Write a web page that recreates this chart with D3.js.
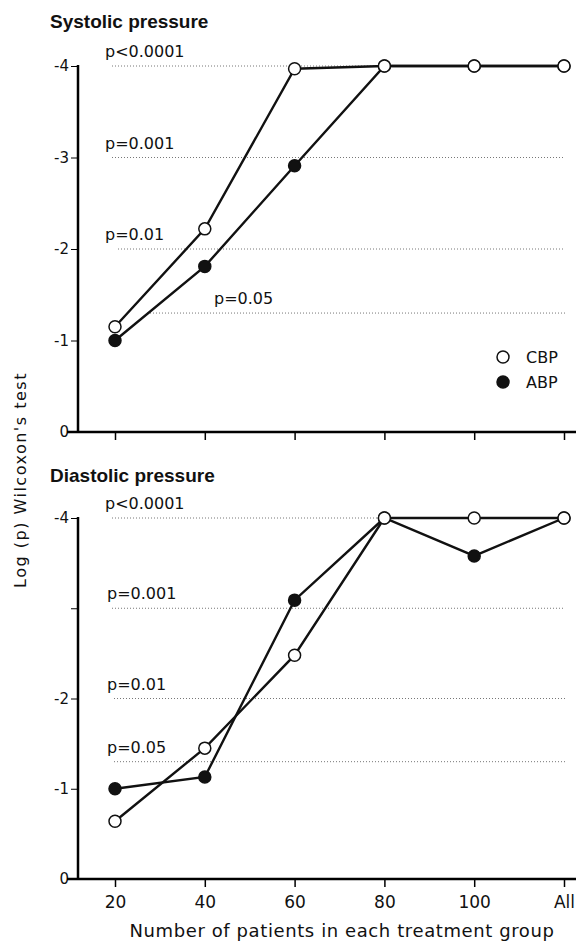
<!DOCTYPE html>
<html>
<head>
<meta charset="utf-8">
<script src="https://cdn.jsdelivr.net/npm/d3@7"></script>
<style>
body { margin: 0; background: #fff; }
text { font-family: "DejaVu Sans", sans-serif; fill: #111; }
</style>
</head>
<body>
<svg width="577" height="946"></svg>
<script>
// Wilcoxon log(p) by group size, systolic and diastolic

var groups = ['20', '40', '60', '80', '100', 'All']

var sysCBP = [-1.15, -2.22, -3.97, -4, -4, -4]
var sysABP = [-1.0, -1.81, -2.91, -4, -4, -4]
var diaCBP = [-0.64, -1.45, -2.48, -4, -4, -4]
var diaABP = [-1.0, -1.13, -3.09, -4, -3.58, -4]

var refValues = [-4, -3, -2, -1.3]
var refLabels = ['p<0.0001', 'p=0.001', 'p=0.01', 'p=0.05']

var yTicks = [0, -1, -2, -3, -4]

var svg = d3.select('svg')

var x = d3.scalePoint()
	.domain(groups)
	.range([115, 564])

function panel(opts) {
	var g = svg.append('g')
	var y = d3.scaleLinear().domain([0, -4]).range([opts.y0, opts.y4])

	g.append('text')
		.attr('x', 50).attr('y', opts.titleY)
		.style('font-family', '"Liberation Sans", Arial, sans-serif')
		.style('font-weight', 'bold').style('font-size', '19px')
		.text(opts.title)

	// reference p lines
	refValues.forEach(function(v, i) {
		g.append('line')
			.attr('x1', opts.refStart[i]).attr('x2', 565)
			.attr('y1', y(v)).attr('y2', y(v))
			.attr('stroke', '#777').attr('stroke-width', 1)
			.attr('stroke-dasharray', '1,2')
		g.append('text')
			.attr('x', opts.refLabelX[i]).attr('y', y(v) - 9)
			.style('font-size', '16px')
			.text(refLabels[i])
	})

	// axes
	var yAxis = d3.axisLeft(y)
		.tickValues(yTicks)
		.tickSize(7)
		.tickPadding(2)
		.tickFormat(function(d) { return opts.hideTick && d == opts.hideTick ? '' : (d == 0 ? '0' : '-' + Math.abs(d)) })
	var ya = g.append('g').attr('transform', 'translate(78,0)').call(yAxis)
	ya.select('.domain').attr('d', 'M0,' + (y(-4) - 1) + 'V' + y(0)).attr('stroke-width', 2.5)
	ya.selectAll('text').style('font-size', '15px')

	var xAxis = d3.axisBottom(x)
		.tickSize(8)
		.tickPadding(9)
		.tickFormat(opts.showX ? null : '')
	var xa = g.append('g').attr('transform', 'translate(0,' + y(0) + ')').call(xAxis)
	xa.select('.domain').attr('d', 'M67,0H576').attr('stroke-width', 2.5)
	xa.selectAll('.tick line').attr('stroke-width', 1.5)
	xa.selectAll('text').style('font-size', '17px')

	var line = d3.line()
		.x(function(d, i) { return x(groups[i]) })
		.y(function(d) { return y(d) })

	var series = [
		{ vals: opts.abp, fill: '#111' },
		{ vals: opts.cbp, fill: '#fff' }
	]
	series.forEach(function(s) {
		g.append('path')
			.attr('d', line(s.vals))
			.attr('fill', 'none')
			.attr('stroke', '#111')
			.attr('stroke-width', 2.4)
	})
	series.forEach(function(s) {
		g.selectAll(null)
			.data(s.vals)
			.enter()
			.append('circle')
			.attr('cx', function(d, i) { return x(groups[i]) })
			.attr('cy', function(d) { return y(d) })
			.attr('r', 6)
			.attr('fill', s.fill)
			.attr('stroke', '#111')
			.attr('stroke-width', 1.5)
	})
	return g
}

var topPanel = panel({
	title: 'Systolic pressure', titleY: 28,
	y0: 432, y4: 66,
	cbp: sysCBP, abp: sysABP,
	refStart: [112, 112, 118, 147],
	refLabelX: [105, 105, 105, 214],
	showX: false
})

panel({
	title: 'Diastolic pressure', titleY: 482,
	y0: 879, y4: 518,
	cbp: diaCBP, abp: diaABP,
	refStart: [112, 112, 114, 114],
	refLabelX: [105, 107, 107, 107],
	showX: true, hideTick: -3
})

// legend
var legend = [{ name: 'CBP', fill: '#fff' }, { name: 'ABP', fill: '#111' }]
legend.forEach(function(l, i) {
	topPanel.append('circle')
		.attr('cx', 503).attr('cy', 357 + i * 25)
		.attr('r', 6)
		.attr('fill', l.fill).attr('stroke', '#111').attr('stroke-width', 1.5)
	topPanel.append('text')
		.attr('x', 526).attr('y', 363 + i * 25)
		.style('font-size', '16px')
		.text(l.name)
})

svg.append('text')
	.attr('transform', 'translate(26,480) rotate(-90)')
	.attr('text-anchor', 'middle')
	.style('font-size', '16px')
	.style('letter-spacing', '1.5px')
	.text("Log (p) Wilcoxon's test")

svg.append('text')
	.attr('x', 342).attr('y', 937)
	.attr('text-anchor', 'middle')
	.style('font-size', '18px')
	.style('letter-spacing', '0.6px')
	.text('Number of patients in each treatment group')
</script>
</body>
</html>
